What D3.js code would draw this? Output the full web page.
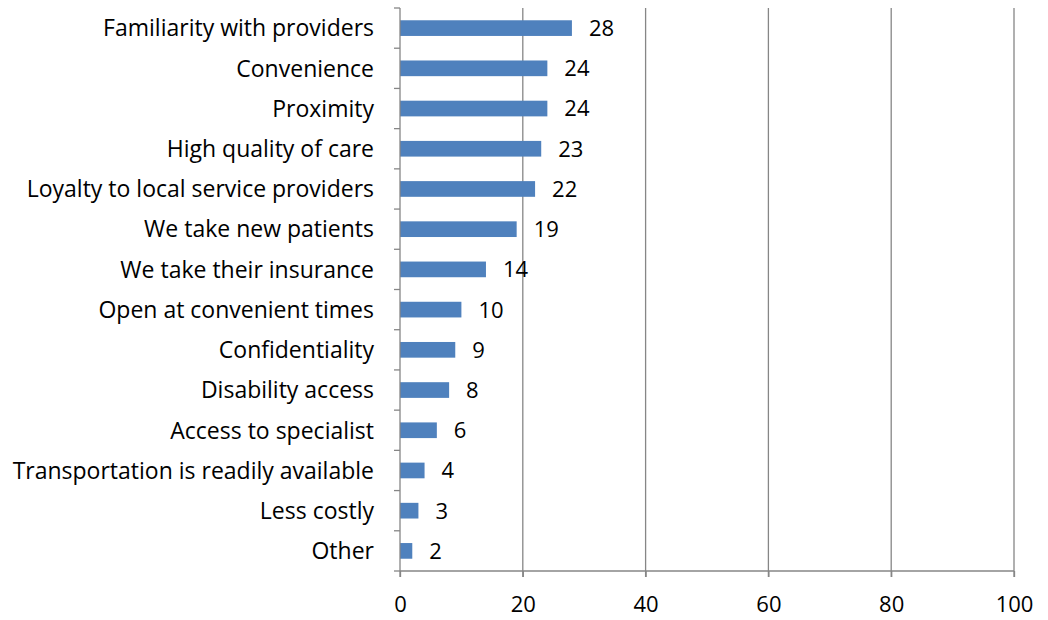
<!DOCTYPE html>
<html>
<head>
<meta charset="utf-8">
<script src="https://cdn.jsdelivr.net/npm/d3@7"></script>
<style>
  html, body { margin: 0; padding: 0; background: #fff; }
  svg text { font-family: "Open Sans", Lato, sans-serif; fill: #000; }
</style>
</head>
<body>
<svg id="chart" width="1048" height="620"></svg>
<script>
// Reasons given for choosing a provider (percent of respondents)
const categories = [
  "Familiarity with providers",
  "Convenience",
  "Proximity",
  "High quality of care",
  "Loyalty to local service providers",
  "We take new patients",
  "We take their insurance",
  "Open at convenient times",
  "Confidentiality",
  "Disability access",
  "Access to specialist",
  "Transportation is readily available",
  "Less costly",
  "Other"
];
const values = [28, 24, 24, 23, 22, 19, 14, 10, 9, 8, 6, 4, 3, 2];
const xTicks = [0, 20, 40, 60, 80, 100];

const svg = d3.select("#chart");
const margin = { left: 400, right: 34, top: 8, bottom: 49 };
const W = 1048, H = 620;
const gridColor = "#868686";
const labelSize = 23;
const numberSize = 22;

const x = d3.scaleLinear().domain([0, 100]).range([margin.left, W - margin.right]);
const y = d3.scaleBand().domain(categories).range([margin.top, H - margin.bottom]).paddingInner(0.61).paddingOuter(0.305);

// vertical gridlines
svg.append("g").selectAll("line").data(xTicks.slice(1)).join("line")
  .attr("x1", d => x(d)).attr("x2", d => x(d))
  .attr("y1", margin.top).attr("y2", H - margin.bottom + 6)
  .attr("stroke", gridColor).attr("stroke-width", 1.3);

// bars
svg.append("g").selectAll("rect").data(values).join("rect")
  .attr("x", x(0))
  .attr("y", (d, i) => y(categories[i]))
  .attr("width", d => x(d) - x(0))
  .attr("height", y.bandwidth())
  .attr("fill", "#4F81BD");

// value labels
svg.append("g").selectAll("text").data(values).join("text")
  .attr("x", d => x(d) + 17)
  .attr("y", (d, i) => y(categories[i]) + y.bandwidth() / 2)
  .attr("dy", "0.36em")
  .attr("font-size", numberSize)
  .text(d => d);

// x axis
const xAxis = d3.axisBottom(x).tickValues(xTicks).tickSize(6).tickPadding(19).tickFormat(d3.format("d"));
const gx = svg.append("g").attr("transform", `translate(0,${H - margin.bottom})`).call(xAxis);
gx.select(".domain").attr("stroke", gridColor).attr("stroke-width", 1.3).attr("d", `M${x(0)},0H${x(100)}`);
gx.selectAll(".tick line").attr("stroke", gridColor).attr("stroke-width", 1.3);
gx.selectAll(".tick text").attr("font-size", numberSize).attr("font-family", "'Open Sans', sans-serif").attr("fill", "#000");

// y axis: ticks at category boundaries
const step = y.step();
const boundaries = d3.range(categories.length + 1).map(i => margin.top + i * step);
const gy = svg.append("g");
gy.append("line").attr("x1", x(0)).attr("x2", x(0))
  .attr("y1", margin.top).attr("y2", H - margin.bottom + 6)
  .attr("stroke", gridColor).attr("stroke-width", 1.3);
gy.selectAll("line.tk").data(boundaries).join("line").attr("class", "tk")
  .attr("x1", x(0) - 6).attr("x2", x(0))
  .attr("y1", d => d).attr("y2", d => d)
  .attr("stroke", gridColor).attr("stroke-width", 1.3);
gy.selectAll("text").data(categories).join("text")
  .attr("x", x(0) - 26)
  .attr("y", d => y(d) + y.bandwidth() / 2)
  .attr("dy", "0.36em")
  .attr("text-anchor", "end")
  .attr("font-size", labelSize)
  .text(d => d);
</script>
</body>
</html>
